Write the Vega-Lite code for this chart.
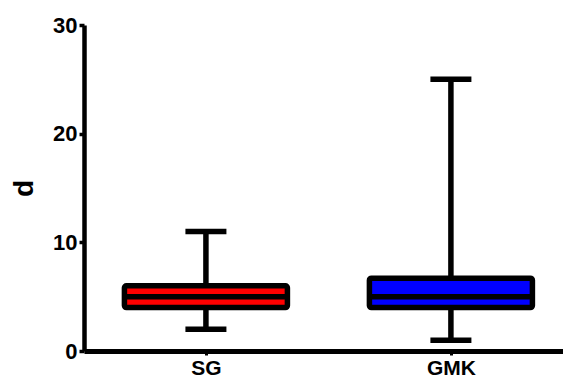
{
  "$schema": "https://vega.github.io/schema/vega-lite/v6.json",
  "width": 479,
  "height": 326,
  "autosize": {"type": "none"},
  "padding": {"left": 84, "top": 25, "right": 0, "bottom": 29},
  "background": "white",
  "config": {
    "view": {"stroke": null},
    "font": "Liberation Sans"
  },
  "data": {
    "values": [
      {"group": "SG", "min": 2, "q1": 4, "median": 5, "q3": 6, "max": 11, "color": "#FF0000"},
      {"group": "GMK", "min": 1, "q1": 4, "median": 5, "q3": 6.7, "max": 25, "color": "#0000FF"}
    ]
  },
  "encoding": {
    "x": {
      "field": "group",
      "type": "nominal",
      "sort": ["SG", "GMK"],
      "scale": {"type": "point", "padding": 0.4776, "align": 0.521},
      "axis": {
        "title": null,
        "labelAngle": 0,
        "labelFont": "Liberation Sans",
        "labelFontWeight": "bold",
        "labelFontSize": 21,
        "labelColor": "black",
        "labelPadding": 2,
        "domainColor": "black",
        "domainWidth": 5,
        "tickColor": "black",
        "tickWidth": 3,
        "tickSize": 4,
        "grid": false
      }
    }
  },
  "layer": [
    {
      "mark": {"type": "rule", "color": "black", "strokeWidth": 5.5},
      "encoding": {
        "y": {
          "field": "min",
          "type": "quantitative",
          "scale": {"domain": [0, 30], "nice": false, "zero": true},
          "axis": {
            "title": "d",
            "titleFont": "Liberation Sans",
            "titleFontWeight": "bold",
            "titleFontSize": 28,
            "titleColor": "black",
            "titlePadding": 14,
            "values": [0, 10, 20, 30],
            "labelFont": "Liberation Sans",
            "labelFontWeight": "bold",
            "labelFontSize": 22,
            "labelColor": "black",
            "labelPadding": 2,
            "domainColor": "black",
            "domainWidth": 4.5,
            "tickColor": "black",
            "tickWidth": 3.5,
            "tickSize": 5,
            "grid": false
          }
        },
        "y2": {"field": "max"}
      }
    },
    {
      "mark": {"type": "bar", "size": 163, "stroke": "black", "strokeWidth": 5.5, "cornerRadius": 2},
      "encoding": {
        "y": {"field": "q1", "type": "quantitative"},
        "y2": {"field": "q3"},
        "fill": {"field": "color", "type": "nominal", "scale": null}
      }
    },
    {
      "mark": {"type": "tick", "color": "black", "size": 163, "thickness": 5.5, "opacity": 1},
      "encoding": {
        "y": {"field": "median", "type": "quantitative"}
      }
    },
    {
      "mark": {"type": "tick", "color": "black", "size": 41, "thickness": 5.5, "opacity": 1},
      "encoding": {
        "y": {"field": "min", "type": "quantitative"}
      }
    },
    {
      "mark": {"type": "tick", "color": "black", "size": 41, "thickness": 5.5, "opacity": 1},
      "encoding": {
        "y": {"field": "max", "type": "quantitative"}
      }
    }
  ]
}
